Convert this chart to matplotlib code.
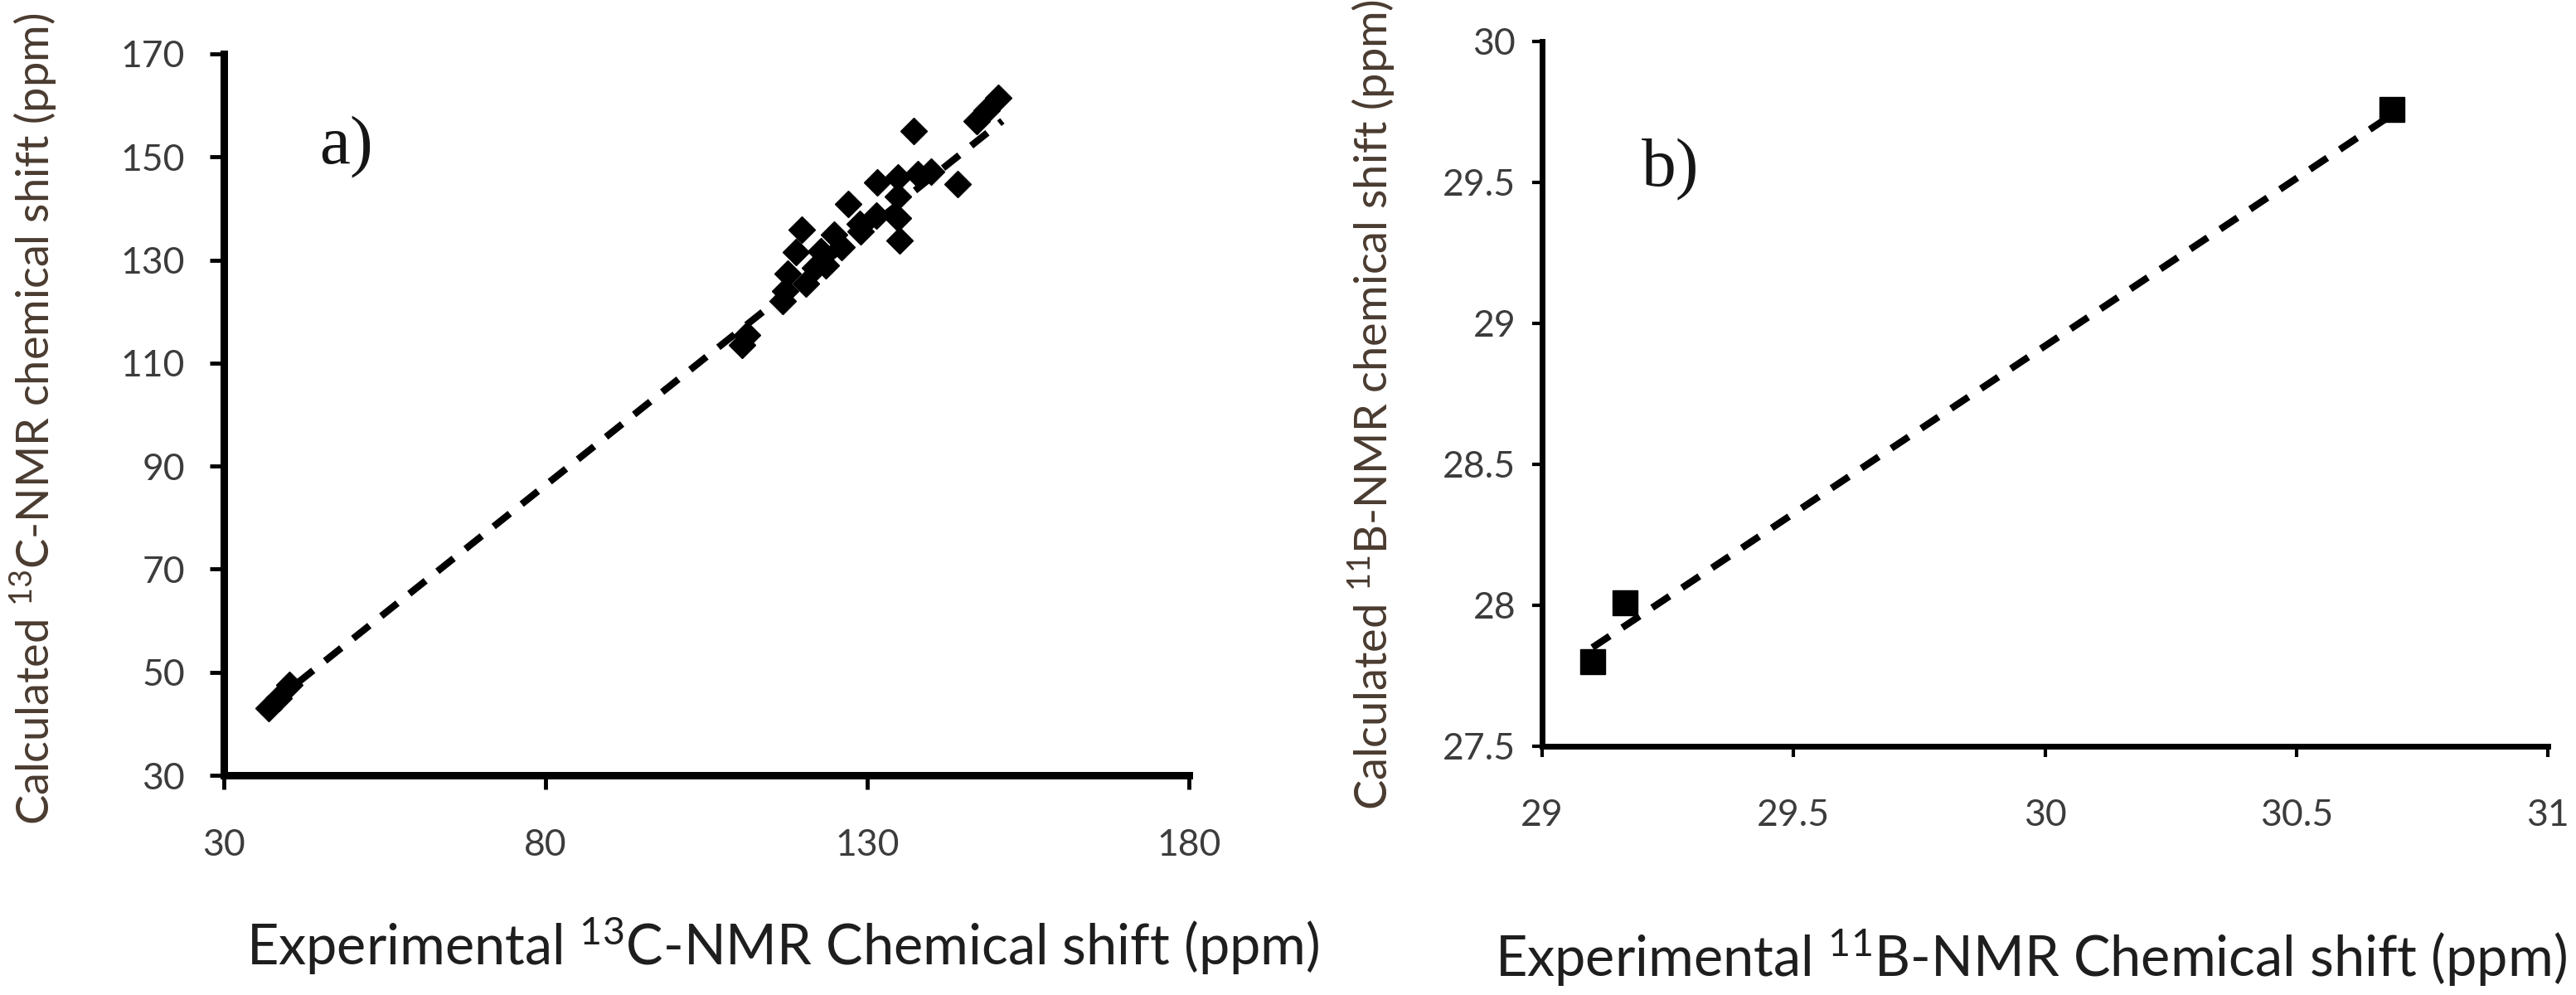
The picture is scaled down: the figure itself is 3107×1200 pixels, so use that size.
import matplotlib
matplotlib.use("Agg")
import matplotlib.pyplot as plt

# ---------------- data ----------------
# panel a: 13C NMR (experimental vs calculated)
c13_exp = [37.0, 38.5, 40.2, 110.5, 111.3, 116.8, 117.2, 117.6, 118.9, 119.8,
           120.5, 121.9, 122.8, 123.5, 124.9, 126.0, 127.0, 128.8, 129.0, 131.4,
           131.6, 134.8, 134.8, 134.8, 135.0, 137.8, 139.9, 137.2, 144.0, 147.0,
           148.5, 150.3]
c13_calc = [43.0, 45.0, 47.5, 113.5, 115.5, 122.0, 124.0, 127.4, 131.6, 135.9,
            125.5, 128.5, 131.7, 129.0, 134.9, 132.5, 140.8, 137.0, 135.5, 138.6,
            145.0, 146.1, 142.4, 138.1, 133.8, 146.6, 147.2, 155.0, 144.8, 157.0,
            159.0, 161.5]
c13_fit_x = [37.0, 151.0]
c13_fit_y = [43.5, 157.0]
c13_xticks = [30, 80, 130, 180]
c13_yticks = [30, 50, 70, 90, 110, 130, 150, 170]

# panel b: 11B NMR
b11_exp = [29.10, 29.165, 30.69]
b11_calc = [27.80, 28.01, 29.76]
b11_fit_x = [29.10, 30.69]
b11_fit_y = [27.85, 29.74]
b11_xticks = [29, 29.5, 30, 30.5, 31]
b11_xticklabels = ["29", "29.5", "30", "30.5", "31"]
b11_yticks = [27.5, 28, 28.5, 29, 29.5, 30]
b11_yticklabels = ["27.5", "28", "28.5", "29", "29.5", "30"]

# ---------------- style ----------------
SANS = ["Liberation Sans Narrow", "Lato", "DejaVu Sans"]
SERIF = ["Liberation Serif", "DejaVu Serif"]
plt.rcParams["mathtext.fontset"] = "custom"
plt.rcParams["mathtext.rm"] = "Lato"
plt.rcParams["mathtext.it"] = "Lato:italic"
plt.rcParams["mathtext.bf"] = "Lato:bold"
TICK_COLOR = "#3c3c3c"
LABEL_COLOR = "#1e1e1e"
YLABEL_COLOR = "#4a3b30"

W, H = 3107, 1200
fig = plt.figure(figsize=(W / 100, H / 100), dpi=100)
fig.patch.set_facecolor("white")

def style_axes(ax, spine_w, tick_len, tick_w):
    for s in ["top", "right"]:
        ax.spines[s].set_visible(False)
    for s in ["left", "bottom"]:
        ax.spines[s].set_linewidth(spine_w)
        ax.spines[s].set_color("black")
    ax.tick_params(direction="out", length=tick_len, width=tick_w, color="black",
                   labelcolor=TICK_COLOR)

# ---- panel a ----
axa = fig.add_axes([270 / W, 1 - 935 / H, (1434 - 270) / W, (935 - 65) / H])
axa.plot(c13_fit_x, c13_fit_y, color="black", lw=6, dashes=(3.0, 2.2),
         solid_capstyle="butt", zorder=2)
axa.plot(c13_exp, c13_calc, linestyle="none", marker="D", markersize=16,
         color="black", zorder=3)
axa.set_xlim(30, 180)
axa.set_ylim(30, 170)
axa.set_xticks(c13_xticks)
axa.set_yticks(c13_yticks)
style_axes(axa, 6.5, 12, 3.5)
for lab in axa.get_xticklabels() + axa.get_yticklabels():
    lab.set_family(SANS)
    lab.set_fontsize(32)
axa.tick_params(axis="x", pad=34)
axa.tick_params(axis="y", pad=22)
axa.text(417, H - 178, "a)", transform=None, fontsize=60, family=SERIF,
         color="#161616", ha="center", va="center")
fig.text(41 / W, 1 - 505 / H, r"Calculated $^{13}$C-NMR chemical shift (ppm)",
         rotation=90, ha="center", va="center", fontsize=39, family=SANS,
         color=YLABEL_COLOR)
fig.text(944 / W, 1 - 1140 / H, r"Experimental $^{13}$C-NMR Chemical shift (ppm)",
         ha="center", va="center", fontsize=48, family=SANS, color=LABEL_COLOR)

# ---- panel b ----
axb = fig.add_axes([1860 / W, 1 - 900 / H, (3073 - 1860) / W, (900 - 50) / H])
axb.plot(b11_fit_x, b11_fit_y, color="black", lw=6, dashes=(3.0, 2.2),
         solid_capstyle="butt", zorder=2)
axb.plot(b11_exp, b11_calc, linestyle="none", marker="s", markersize=22,
         color="black", zorder=3)
axb.set_xlim(29, 31)
axb.set_ylim(27.5, 30)
axb.set_xticks(b11_xticks)
axb.set_xticklabels(b11_xticklabels)
axb.set_yticks(b11_yticks)
axb.set_yticklabels(b11_yticklabels)
style_axes(axb, 5, 9, 3)
for lab in axb.get_xticklabels() + axb.get_yticklabels():
    lab.set_family(SANS)
    lab.set_fontsize(32)
axb.tick_params(axis="x", pad=36)
axb.tick_params(axis="y", pad=14)
axb.text(2015, H - 205, "b)", transform=None, fontsize=60, family=SERIF,
         color="#161616", ha="center", va="center")
fig.text(1655 / W, 1 - 488 / H, r"Calculated $^{11}$B-NMR chemical shift (ppm)",
         rotation=90, ha="center", va="center", fontsize=39, family=SANS,
         color=YLABEL_COLOR)
fig.text(2449 / W, 1 - 1155 / H, r"Experimental $^{11}$B-NMR Chemical shift (ppm)",
         ha="center", va="center", fontsize=48, family=SANS, color=LABEL_COLOR)

fig.savefig("out.png", dpi=100, facecolor="white")
